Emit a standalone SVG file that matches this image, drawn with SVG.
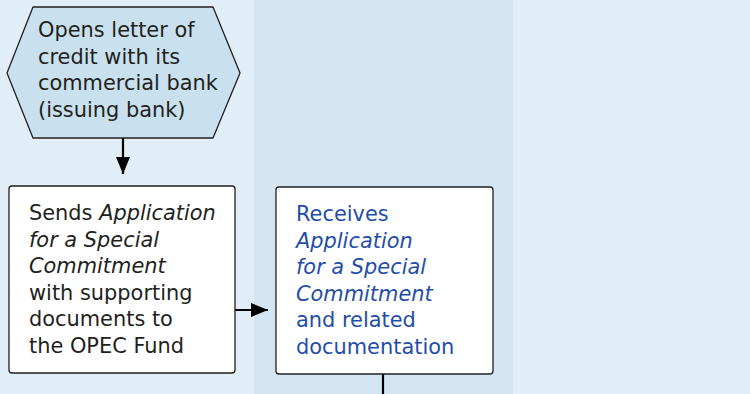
<svg xmlns="http://www.w3.org/2000/svg" width="750" height="394" viewBox="0 0 750 394">
<defs>
<style>
.t{font-family:"DejaVu Sans","Liberation Sans",sans-serif;font-size:20.9px;fill:#231f20}
.b{fill:#1f4ea8}
.i{font-style:italic}
.box{fill:#ffffff;stroke:#231f20;stroke-width:1.3}
.hex{fill:#c9e1ee;stroke:#231f20;stroke-width:1.3}
.ln{stroke:#000;stroke-width:2.2;fill:none}
</style>
<marker id="ah" viewBox="0 0 17 14" refX="17" refY="7" markerWidth="17" markerHeight="14" markerUnits="userSpaceOnUse" orient="auto">
<path d="M0,0 L17,7 L0,14 Z" fill="#000"/>
</marker>
</defs>
<g id="lanes">
<rect x="0" y="0" width="254" height="394" fill="#e1eef7"/>
<rect x="254" y="0" width="259" height="394" fill="#d4e6f3"/>
<rect x="513" y="0" width="237" height="394" fill="#e1eef7"/>
</g>
<g id="connectors">
<line class="ln" x1="123" y1="138" x2="123" y2="174" marker-end="url(#ah)"/>
<line class="ln" x1="235" y1="310" x2="268" y2="310" marker-end="url(#ah)"/>
<line class="ln" x1="383" y1="374" x2="383" y2="394"/>
</g>
<g id="node-opens">
<path class="hex" d="M33,7 L213,7 L240,73 L213,138 L33,138 L7,73 Z" stroke-linejoin="round"/>
<text class="t" x="38" y="37">Opens letter of</text>
<text class="t" x="38" y="63.5">credit with its</text>
<text class="t" x="38" y="90">commercial bank</text>
<text class="t" x="38" y="116.5">(issuing bank)</text>
</g>
<g id="node-sends">
<rect class="box" x="9" y="186" width="226" height="187" rx="3"/>
<text class="t" x="29" y="220">Sends <tspan class="i">Application</tspan></text>
<text class="t i" x="29" y="246.5">for a Special</text>
<text class="t i" x="29" y="273">Commitment</text>
<text class="t" x="29" y="299.5">with supporting</text>
<text class="t" x="29" y="326">documents to</text>
<text class="t" x="29" y="352.5">the OPEC Fund</text>
</g>
<g id="node-receives">
<rect class="box" x="276" y="187" width="217" height="187" rx="3"/>
<text class="t b" x="296" y="221">Receives</text>
<text class="t b i" x="296" y="247.5">Application</text>
<text class="t b i" x="296" y="274">for a Special</text>
<text class="t b i" x="296" y="300.5">Commitment</text>
<text class="t b" x="296" y="327">and related</text>
<text class="t b" x="296" y="353.5">documentation</text>
</g>
</svg>
